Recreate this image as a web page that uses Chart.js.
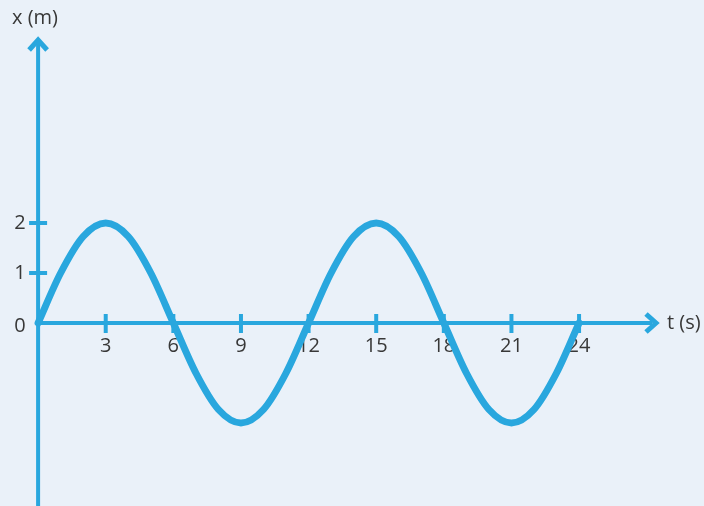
<!DOCTYPE html>
<html>
<head>
<meta charset="utf-8">
<script src="https://cdn.jsdelivr.net/npm/chart.js@4/dist/chart.umd.min.js"></script>
<style>
  html, body { margin: 0; padding: 0; background: #eaf1f9; }
  #wrap { width: 704px; height: 506px; }
</style>
</head>
<body>
<div id="wrap"><canvas id="c" width="704" height="506"></canvas></div>
<script>
// Data
const timeValues = [0,1,2,3,4,5,6,7,8,9,10,11,12,13,14,15,16,17,18,19,20,21,22,23,24];
const positionValues = [0,1.0,1.73,2,1.73,1.0,0,-1.0,-1.73,-2,-1.73,-1.0,0,1.0,1.73,2,1.73,1.0,0,-1.0,-1.73,-2,-1.73,-1.0,0];
const xTickLabels = [3,6,9,12,15,18,21,24];
const yTickLabels = [0,1,2];
const xAxisTitle = 't (s)';
const yAxisTitle = 'x (m)';

const BLUE = '#29a7de';
const TEXT = '#383838';
const FONT = '20px "Open Sans", "Noto Sans", sans-serif';

const axesPlugin = {
  id: 'axesPlugin',
  beforeDatasetsDraw(chart) {
    const ctx = chart.ctx;
    const xs = chart.scales.x, ys = chart.scales.y;
    const x0 = xs.getPixelForValue(0), y0 = ys.getPixelForValue(0);
    ctx.save();
    ctx.strokeStyle = BLUE; ctx.fillStyle = BLUE;
    ctx.lineWidth = 4;
    // y axis
    ctx.beginPath(); ctx.moveTo(x0, chart.height); ctx.lineTo(x0, 44); ctx.stroke();
    // x axis
    ctx.beginPath(); ctx.moveTo(x0, y0); ctx.lineTo(652, y0); ctx.stroke();
    // arrowheads (bold chevrons)
    ctx.lineWidth = 5; ctx.lineJoin = 'miter'; ctx.lineCap = 'butt';
    ctx.beginPath();
    ctx.moveTo(x0 - 9, 50); ctx.lineTo(x0, 40); ctx.lineTo(x0 + 9, 50);
    ctx.stroke();
    const tipX = 656;
    ctx.beginPath();
    ctx.moveTo(tipX - 10, y0 - 9); ctx.lineTo(tipX, y0); ctx.lineTo(tipX - 10, y0 + 9);
    ctx.stroke();
    // x ticks
    ctx.lineWidth = 4;
    xTickLabels.forEach(v => {
      const px = xs.getPixelForValue(v);
      ctx.beginPath(); ctx.moveTo(px, y0 - 9); ctx.lineTo(px, y0 + 10); ctx.stroke();
    });
    // y ticks
    yTickLabels.filter(v => v !== 0).forEach(v => {
      const py = ys.getPixelForValue(v);
      ctx.beginPath(); ctx.moveTo(x0 - 9, py); ctx.lineTo(x0 + 9, py); ctx.stroke();
    });
    // labels
    ctx.fillStyle = TEXT; ctx.font = FONT;
    ctx.textAlign = 'center'; ctx.textBaseline = 'middle';
    xTickLabels.forEach(v => {
      ctx.fillText(String(v), xs.getPixelForValue(v), y0 + 23);
    });
    yTickLabels.forEach(v => {
      const py = ys.getPixelForValue(v) + (v === 0 ? 3 : 0);
      ctx.fillText(String(v), 20, py);
    });
    ctx.textAlign = 'left';
    ctx.fillText(yAxisTitle, 12, 18);
    ctx.fillText(xAxisTitle, 667, y0);
    ctx.restore();
  }
};

const pxPerT = 22.54, t0px = 38.1;
const pxPerX = 50, x0px = 323;

new Chart(document.getElementById('c'), {
  type: 'line',
  data: {
    datasets: [{
      data: timeValues.map((t, i) => ({ x: t, y: positionValues[i] })),
      borderColor: BLUE,
      borderWidth: 7,
      pointRadius: 0,
      cubicInterpolationMode: 'monotone',
      borderCapStyle: 'round',
      fill: false
    }]
  },
  options: {
    responsive: false,
    animation: false,
    layout: { padding: 0 },
    plugins: { legend: { display: false }, tooltip: { enabled: false } },
    scales: {
      x: { type: 'linear', display: false, min: -t0px / pxPerT, max: (704 - t0px) / pxPerT },
      y: { type: 'linear', display: false, min: -(506 - x0px) / pxPerX, max: x0px / pxPerX }
    }
  },
  plugins: [axesPlugin]
});
</script>
</body>
</html>
